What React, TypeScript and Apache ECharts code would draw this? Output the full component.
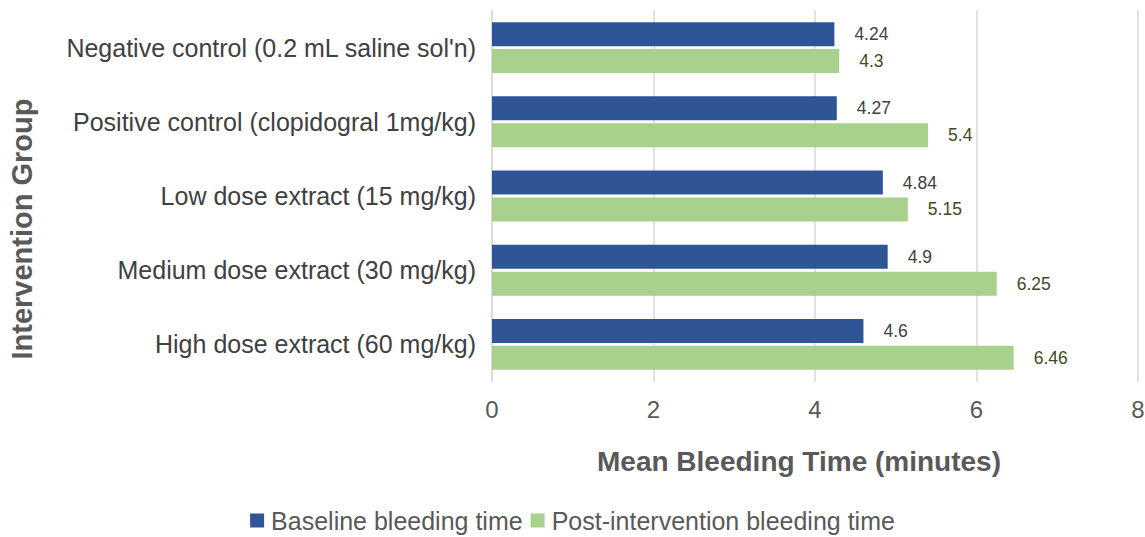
import React, { useEffect, useRef } from "react";
import * as echarts from "echarts";

const categories = [
  "Negative control (0.2 mL saline sol'n)",
  "Positive control (clopidogral 1mg/kg)",
  "Low dose extract (15 mg/kg)",
  "Medium dose extract (30 mg/kg)",
  "High dose extract (60 mg/kg)",
];
const baseline = [4.24, 4.27, 4.84, 4.9, 4.6];
const post = [4.3, 5.4, 5.15, 6.25, 6.46];
const seriesNames = ["Baseline bleeding time", "Post-intervention bleeding time"];
const xTicks = { min: 0, max: 8, interval: 2 };
const yTitle = "Intervention Group";
const xTitle = "Mean Bleeding Time (minutes)";

const FONT = "Liberation Sans, Arial, sans-serif";

export default function App() {
  const ref = useRef<HTMLDivElement>(null);
  useEffect(() => {
    document.body.style.margin = "0";
    const chart = echarts.init(ref.current!, null, { renderer: "svg" });
    chart.setOption({
      animation: false,
      textStyle: { fontFamily: FONT },
      grid: {
        left: 492,
        right: 7,
        top: 10.5,
        bottom: 155.5,
        containLabel: false,
        outerBoundsMode: "none",
      },
      legend: {
        bottom: -1,
        left: "center",
        itemWidth: 14,
        itemHeight: 14,
        itemGap: 8,
        icon: "rect",
        textStyle: { fontSize: 25, color: "#595959", fontFamily: FONT, padding: [0, 0, 0, 2] },
        data: seriesNames,
      },
      graphic: [
        {
          type: "text",
          x: 22,
          y: 229,
          rotation: Math.PI / 2,
          style: {
            text: yTitle,
            fontSize: 29,
            fontWeight: "bold",
            fill: "#595959",
            fontFamily: FONT,
            align: "center",
            verticalAlign: "middle",
          },
        },
      ],
      xAxis: {
        type: "value",
        min: xTicks.min,
        max: xTicks.max,
        interval: xTicks.interval,
        name: xTitle,
        nameLocation: "middle",
        nameGap: 66,
        nameTextStyle: {
          fontSize: 28,
          fontWeight: "bold",
          color: "#595959",
          fontFamily: FONT,
          padding: [0, 32, 0, 0],
        },
        axisLabel: { fontSize: 24, color: "#595959", margin: 16 },
        axisLine: { show: false },
        axisTick: { show: false },
        splitLine: { show: true, lineStyle: { color: "#d9d9d9", width: 1.5 } },
      },
      yAxis: {
        type: "category",
        data: categories,
        inverse: true,
        axisLabel: { fontSize: 25, color: "#404040", margin: 16 },
        axisLine: { show: true, lineStyle: { color: "#d9d9d9", width: 1.5 } },
        axisTick: { show: false },
      },
      series: [
        {
          name: seriesNames[0],
          type: "bar",
          data: baseline,
          barWidth: 24,
          barGap: "12%",
          itemStyle: { color: "#2F5597" },
          label: {
            show: true,
            position: "right",
            distance: 20,
            fontSize: 17.5,
            color: "#404040",
          },
        },
        {
          name: seriesNames[1],
          type: "bar",
          data: post,
          barWidth: 24,
          barGap: "12%",
          itemStyle: { color: "#A9D18E" },
          label: {
            show: true,
            position: "right",
            distance: 20,
            fontSize: 17.5,
            color: "#3F4A25",
          },
        },
      ],
    });
    return () => chart.dispose();
  }, []);
  return <div ref={ref} style={{ width: 1145, height: 537 }} />;
}
